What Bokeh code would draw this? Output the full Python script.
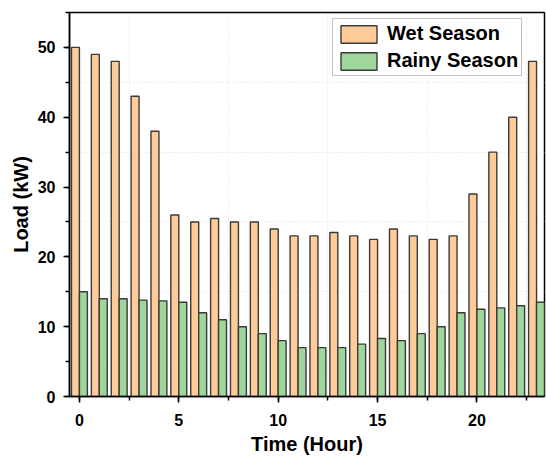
from bokeh.plotting import figure
from bokeh.models import (ColumnDataSource, SingleIntervalTicker, FixedTicker, Range1d,
                          Legend, LegendItem)
from bokeh.transform import dodge
from bokeh.embed import file_html
from bokeh.resources import INLINE

hours = list(range(24))
wet_season = [50, 49, 48, 43, 38, 26, 25, 25.5, 25, 25, 24, 23, 23, 23.5, 23, 22.5,
              24, 23, 22.5, 23, 29, 35, 40, 48]
rainy_season = [15, 14, 14, 13.8, 13.7, 13.5, 12, 11, 10, 9, 8, 7, 7, 7, 7.5, 8.3,
                8, 9, 10, 12, 12.5, 12.7, 13, 13.5]
x_grid_ticks = [2.5, 7.5, 12.5, 17.5, 22.5]
y_grid_ticks = [5, 15, 25, 35, 45, 55]
x_title = "Time (Hour)"
y_title = "Load (kW)"

src = ColumnDataSource(dict(hour=hours, wet=wet_season, rainy=rainy_season))

FONT = "Liberation Sans"

p = figure(width=546, height=458, output_backend="svg", toolbar_location=None,
           x_range=Range1d(-0.5, 23.4), y_range=Range1d(0, 55),
           min_border_left=69, min_border_right=2, min_border_top=12, min_border_bottom=62)
p.background_fill_color = "white"
p.border_fill_color = "white"
p.outline_line_color = "black"
p.outline_line_width = 1.5

r1 = p.vbar(x=dodge('hour', -0.2, range=p.x_range), top='wet', width=0.4, source=src,
            fill_color="#FFCC99", line_color="#3a3a3a", line_width=1.4)
r2 = p.vbar(x=dodge('hour', 0.2, range=p.x_range), top='rainy', width=0.4, source=src,
            fill_color="#9ED69B", line_color="#3a3a3a", line_width=1.4)

p.xaxis.ticker = SingleIntervalTicker(interval=5, num_minor_ticks=2)
p.yaxis.ticker = SingleIntervalTicker(interval=10, num_minor_ticks=2)
p.xgrid[0].ticker = FixedTicker(ticks=x_grid_ticks)
p.ygrid[0].ticker = FixedTicker(ticks=y_grid_ticks)
for g in (p.xgrid[0], p.ygrid[0]):
    g.grid_line_color = "#e2e2e2"
    g.grid_line_dash = "1 2"
    g.grid_line_width = 1.2

for ax in (p.xaxis[0], p.yaxis[0]):
    ax.axis_line_color = "black"
    ax.axis_line_width = 1.5
    ax.major_tick_line_color = "black"
    ax.major_tick_line_width = 1.5
    ax.minor_tick_line_color = "black"
    ax.minor_tick_line_width = 1.5
    ax.major_tick_in = 0
    ax.major_tick_out = 6
    ax.minor_tick_in = 0
    ax.minor_tick_out = 4
    ax.major_label_text_font = FONT
    ax.major_label_text_font_style = "bold"
    ax.major_label_text_font_size = "16px"
    ax.major_label_text_color = "black"
    ax.axis_label_text_font = FONT
    ax.axis_label_text_font_style = "bold"
    ax.axis_label_text_font_size = "20px"
    ax.axis_label_text_color = "black"

p.xaxis.axis_label = x_title
p.yaxis.axis_label = y_title
p.xaxis.major_label_standoff = 11
p.xaxis.axis_label_standoff = 4
p.yaxis.major_label_standoff = 8
p.yaxis.axis_label_standoff = 3

legend = Legend(items=[LegendItem(label="Wet Season", renderers=[r1]),
                       LegendItem(label="Rainy Season", renderers=[r2])],
                location=(263, 320))
legend.label_text_font = FONT
legend.label_text_font_style = "bold"
legend.label_text_font_size = "20px"
legend.label_text_color = "black"
legend.glyph_width = 45
legend.glyph_height = 22
legend.label_height = 22
legend.spacing = 4
legend.padding = 3
legend.margin = 0
legend.label_standoff = 6
legend.border_line_color = "#888888"
legend.border_line_width = 1
legend.background_fill_alpha = 1
p.add_layout(legend)

open("out.html", "w").write(file_html(p, INLINE))
